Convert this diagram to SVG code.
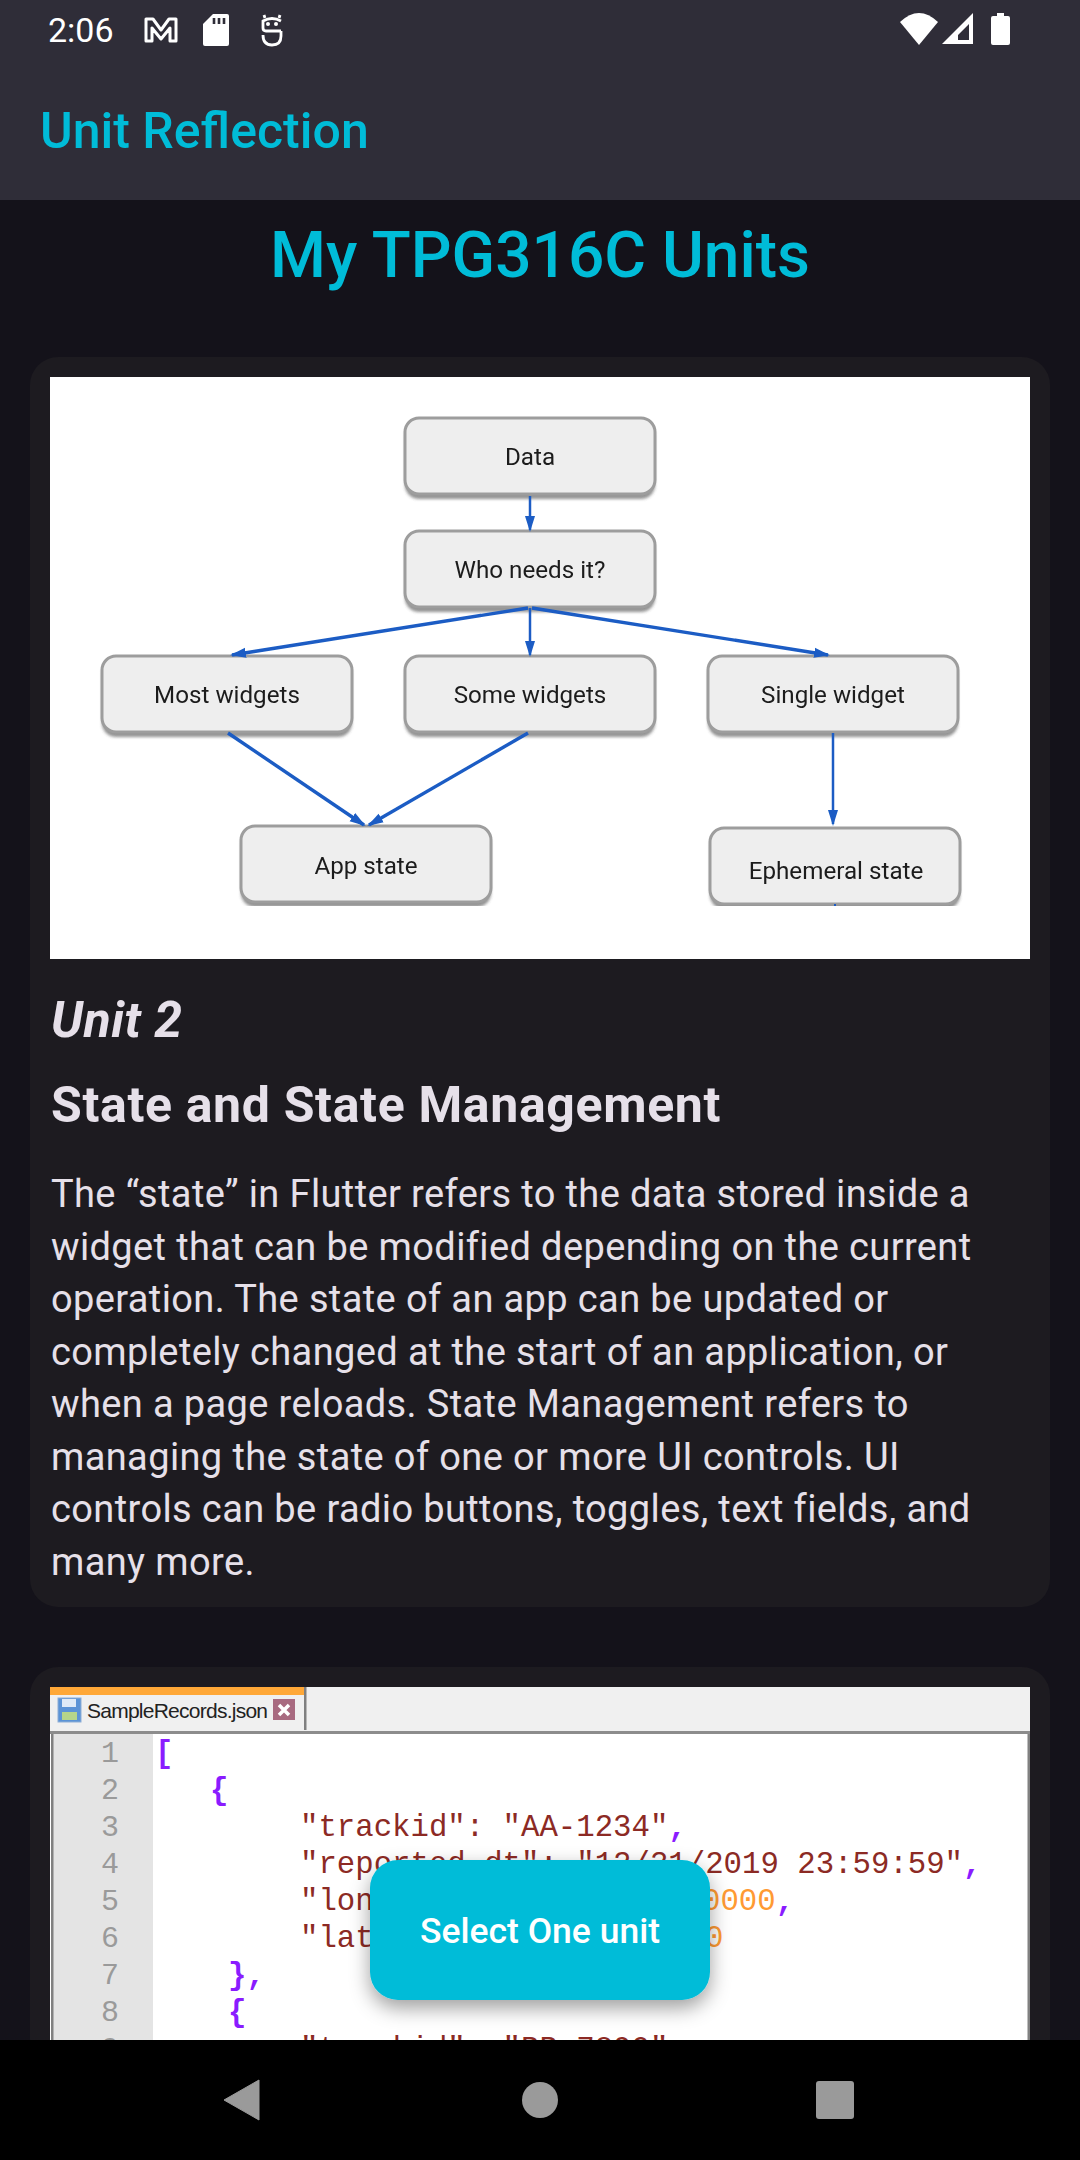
<svg xmlns="http://www.w3.org/2000/svg" width="1080" height="2160" viewBox="0 0 1080 2160">
<defs>
<style>
.r{font-family:Roboto,"Noto Sans",sans-serif}
.cy{fill:#00bcd8}
.body{font-size:38px;fill:#e6e0e9;letter-spacing:.38px}
.nd{fill:#eeeeee;stroke:#9d9d9d;stroke-width:3}
.sh{fill:#666;opacity:.7;filter:url(#sb)}
.lbl{font-family:Roboto,sans-serif;font-size:24.2px;fill:#1c1c1c;text-anchor:middle}
.ar{stroke:#1a5cc4;stroke-width:2.5;fill:none;marker-end:url(#ah)}
.th{stroke-width:3.4}
.m{font-family:"Liberation Mono",monospace;font-size:30.7px}
.k{fill:#8c2a24}.p{fill:#8a1cff;font-weight:700}.o{fill:#ff9a33}
.ln{font-family:"Liberation Mono",monospace;font-size:30px;fill:#9a9a9a;text-anchor:middle}
</style>
<marker id="ah" markerWidth="16" markerHeight="12" refX="14" refY="5" orient="auto" markerUnits="userSpaceOnUse" viewBox="0 0 16 10"><path d="M0 0L16 5L0 10Z" fill="#1a5cc4"/></marker>
<clipPath id="img1"><rect x="50" y="377" width="980" height="529"/></clipPath>
<filter id="fs" x="-20%" y="-20%" width="140%" height="150%"><feDropShadow dx="0" dy="8" stdDeviation="10" flood-color="#000" flood-opacity=".38"/></filter>
<filter id="soft" x="-5%" y="-5%" width="110%" height="110%"><feGaussianBlur stdDeviation=".55"/></filter>
<filter id="sb" x="-5%" y="-15%" width="110%" height="130%"><feGaussianBlur stdDeviation="1.6"/></filter>
</defs>
<rect width="1080" height="2160" fill="#14121a"/>
<g id="app-bar">
<rect width="1080" height="200" fill="#2f2d38"/>
<text class="r" x="48" y="42" font-size="34" fill="#fff">2:06</text>
<path d="M146 19H153L161 30L169 19H176V41H170V28L161 39L152 28V41H146Z" fill="none" stroke="#fff" stroke-width="3" stroke-linejoin="round"/>
<path d="M213 14H227Q229 14 229 16V44Q229 46 227 46H205Q203 46 203 44V24Z" fill="#fff"/>
<path d="M214 18v6M219 18v6M224 18v6" stroke="#2f2d38" stroke-width="2.6"/>
<g fill="none" stroke="#fff" stroke-width="2.8"><path d="M281 21Q272 16 263 21V28Q263 31 266 31H281"/><path d="M263 35Q263 45 272 45Q281 45 281 36V31"/><path d="M265 18L264 15M279 18L280 15"/></g>
<circle cx="268" cy="24" r="2" fill="#fff"/><circle cx="276" cy="24" r="2" fill="#fff"/>
<path d="M900 22Q919 4 938 22L919 45Z" fill="#fff"/>
<path d="M973 13V44H942Z M969 24L958 35V40H969Z" fill="#fff" fill-rule="evenodd"/>
<path d="M997 16V13H1004V16H1008Q1010 16 1010 18V43Q1010 45 1008 45H993Q991 45 991 43V18Q991 16 993 16Z" fill="#fff"/>
<text class="r cy" x="40" y="148" font-size="50" font-weight="500">Unit Reflection</text>
</g>
<text class="r cy" x="540" y="277" font-size="64" font-weight="500" text-anchor="middle">My TPG316C Units</text>
<g id="card-1">
<rect x="30" y="357" width="1020" height="1250" rx="28" fill="#1d1b20"/>
<rect x="50" y="377" width="980" height="582" fill="#fff"/>
<g filter="url(#soft)">
<g clip-path="url(#img1)">
<g id="node-data"><rect class="sh" x="405" y="423" width="250" height="76" rx="14"/><rect class="nd" x="405" y="418" width="250" height="76" rx="14"/><text class="lbl" x="530" y="465">Data</text></g>
<g id="node-who"><rect class="sh" x="405" y="536" width="250" height="76" rx="14"/><rect class="nd" x="405" y="531" width="250" height="76" rx="14"/><text class="lbl" x="530" y="578">Who needs it?</text></g>
<g id="node-most"><rect class="sh" x="102" y="661" width="250" height="76" rx="14"/><rect class="nd" x="102" y="656" width="250" height="76" rx="14"/><text class="lbl" x="227" y="703">Most widgets</text></g>
<g id="node-some"><rect class="sh" x="405" y="661" width="250" height="76" rx="14"/><rect class="nd" x="405" y="656" width="250" height="76" rx="14"/><text class="lbl" x="530" y="703">Some widgets</text></g>
<g id="node-single"><rect class="sh" x="708" y="661" width="250" height="76" rx="14"/><rect class="nd" x="708" y="656" width="250" height="76" rx="14"/><text class="lbl" x="833" y="703">Single widget</text></g>
<g id="node-app"><rect class="sh" x="241" y="831" width="250" height="76" rx="14"/><rect class="nd" x="241" y="826" width="250" height="76" rx="14"/><text class="lbl" x="366" y="874">App state</text></g>
<g id="node-ephemeral"><rect class="sh" x="710" y="833" width="250" height="76" rx="14"/><rect class="nd" x="710" y="828" width="250" height="76" rx="14"/><text class="lbl" x="836" y="879">Ephemeral state</text></g>
</g>
<g id="connectors">
<path class="ar" d="M530 496V530"/>
<path class="ar th" d="M528 608L232 655"/>
<path class="ar" d="M530 608V655"/>
<path class="ar th" d="M532 608L828 655"/>
<path class="ar th" d="M228 733L364 825"/>
<path class="ar th" d="M528 733L369 825"/>
<path class="ar" d="M833 733V824"/>
<path d="M835 904V906" stroke="#1a5cc4" stroke-width="2"/>
</g>
</g>
<text class="r" x="51" y="1037" font-size="50" font-weight="700" font-style="italic" letter-spacing=".5" fill="#e6e0e9">Unit 2</text>
<text class="r" x="51" y="1122" font-size="50" font-weight="700" letter-spacing=".65" fill="#e6e0e9">State and State Management</text>
<g class="r body">
<text x="51" y="1207">The “state” in Flutter refers to the data stored inside a</text>
<text x="51" y="1259.5">widget that can be modified depending on the current</text>
<text x="51" y="1312">operation. The state of an app can be updated or</text>
<text x="51" y="1364.5">completely changed at the start of an application, or</text>
<text x="51" y="1417">when a page reloads. State Management refers to</text>
<text x="51" y="1469.5">managing the state of one or more UI controls. UI</text>
<text x="51" y="1522">controls can be radio buttons, toggles, text fields, and</text>
<text x="51" y="1574.5">many more.</text>
</g>
</g>
<g id="card-2">
<rect x="30" y="1667" width="1020" height="400" rx="28" fill="#1d1b20"/>
<rect x="50" y="1687" width="980" height="373" fill="#fff"/>
<rect x="50" y="1687" width="980" height="45" fill="#f0f0f0"/>
<rect x="50" y="1687" width="254" height="8" fill="#ffa838"/>
<rect x="304" y="1687" width="2.5" height="43" fill="#808080"/>
<rect x="50" y="1731" width="980" height="3" fill="#8c8c8c"/>
<rect x="53" y="1734" width="100" height="326" fill="#e4e4e4"/>
<rect x="51" y="1734" width="2.5" height="326" fill="#808080"/>
<rect x="1027.5" y="1734" width="2.5" height="326" fill="#808080"/>
<rect x="58" y="1698" width="23" height="24" fill="#5b93d6" stroke="#8eaed6"/>
<rect x="62" y="1699" width="14" height="8" fill="#dfeaf7"/>
<rect x="62" y="1712" width="15" height="8" fill="#b5d58a"/>
<text x="87" y="1718" font-family="'Liberation Sans',sans-serif" font-size="21" letter-spacing="-.75" fill="#222">SampleRecords.json</text>
<rect x="273" y="1699" width="22" height="21" fill="#a86a80"/>
<path d="M279 1705L289 1715M289 1705L279 1715" stroke="#fff" stroke-width="3.5"/>
<g class="ln">
<text x="110" y="1762">1</text><text x="110" y="1799">2</text><text x="110" y="1836">3</text><text x="110" y="1873">4</text><text x="110" y="1910">5</text><text x="110" y="1947">6</text><text x="110" y="1984">7</text><text x="110" y="2021">8</text><text x="110" y="2058">9</text>
</g>
<g class="m">
<text class="p" x="155" y="1762">[</text>
<text class="p" x="210" y="1799">{</text>
<text class="k" x="300" y="1836">"trackid": "AA-1234"<tspan class="p">,</tspan></text>
<text class="k" x="300" y="1873">"reported_dt": "12/31/2019 23:59:59"<tspan class="p">,</tspan></text>
<text class="k" x="300" y="1910">"lon</text>
<text class="o" x="702" y="1910">0000<tspan class="p">,</tspan></text>
<text class="k" x="300" y="1947">"lat</text>
<text class="o" x="705" y="1947">0</text>
<text class="p" x="228" y="1984">}<tspan>,</tspan></text>
<text class="p" x="228" y="2021">{</text>
<text class="k" x="300" y="2058">"trackid": "BB-7890"</text>
</g>
</g>
<g id="fab">
<rect x="370" y="1860" width="340" height="140" rx="28" fill="#00bcd8" filter="url(#fs)"/>
<text class="r" x="540" y="1943" font-size="35.5" font-weight="500" fill="#fff" text-anchor="middle">Select One unit</text>
</g>
<g id="nav-bar">
<rect y="2040" width="1080" height="120" fill="#000"/>
<path d="M259 2080V2120L224 2100Z" fill="#9a9a9a" stroke="#9a9a9a" stroke-linejoin="round" stroke-width="1"/>
<circle cx="540" cy="2100" r="18" fill="#9a9a9a"/>
<rect x="816" y="2081" width="38" height="38" rx="3" fill="#9a9a9a"/>
</g>
</svg>
